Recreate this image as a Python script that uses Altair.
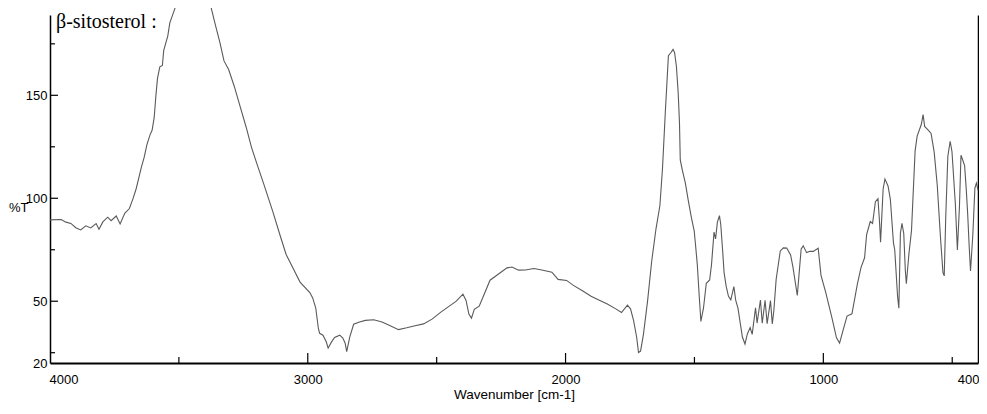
import altair as alt
import pandas as pd

# ---- spectrum values (wavenumber cm-1, %T) ----
wavenumber = [
    4000, 3957, 3938, 3919, 3900, 3881, 3861, 3842, 3821, 3810, 3795, 3776, 3763, 3743, 3728,
    3710, 3692, 3678, 3666, 3655, 3646, 3635, 3624, 3612, 3604, 3596, 3589, 3583, 3574, 3564,
    3559, 3543, 3535, 3519, 3504, 3496, 3470, 3440, 3410, 3387, 3374, 3358, 3341, 3325, 3307,
    3285, 3262, 3239, 3218, 3194, 3170, 3135, 3107, 3084, 3060, 3030, 2992, 2981, 2969, 2959,
    2954, 2941, 2928, 2921, 2909, 2896, 2876, 2864, 2855, 2849, 2837, 2822, 2802, 2777, 2744,
    2712, 2680, 2648, 2616, 2584, 2551, 2518, 2485, 2451, 2425, 2398, 2386, 2375, 2365, 2354,
    2335, 2314, 2293, 2260, 2227, 2208, 2182, 2156, 2123, 2092, 2053, 2029, 1996, 1971, 1933,
    1901, 1869, 1838, 1805, 1783, 1760, 1748, 1736, 1724, 1717, 1709, 1698, 1682, 1666, 1649,
    1634, 1624, 1613, 1601, 1591, 1583, 1577, 1570, 1563, 1558, 1555, 1547, 1535, 1524, 1512,
    1501, 1496, 1489, 1481, 1475, 1465, 1454, 1441, 1434, 1424, 1418, 1411, 1403, 1398, 1391,
    1385, 1377, 1368, 1359, 1347, 1340, 1331, 1322, 1314, 1304, 1295, 1284, 1276, 1263, 1257,
    1244, 1237, 1226, 1218, 1205, 1198, 1192, 1183, 1167, 1155, 1142, 1127, 1118, 1101, 1086,
    1078, 1065, 1052, 1039, 1020, 1009, 991, 967, 949, 937, 923, 908, 889, 868, 854,
    840, 832, 818, 809, 798, 788, 782, 778, 768, 761, 749, 740, 728, 723, 712,
    707, 701, 695, 688, 682, 678, 668, 658, 644, 636, 620, 613, 607, 594, 582,
    570, 558, 546, 536, 531, 525, 517, 508, 501, 488, 480, 472, 466, 461, 452,
    446, 440, 434, 429, 420, 412, 406, 400,
]
transmittance = [
    89.5, 89.7, 88.4, 87.8, 85.7, 84.6, 86.6, 85.6, 87.7, 84.9, 88.5, 90.8, 89.1, 91.4, 87.5,
    92.7, 95.0, 99.8, 104.5, 110.1, 114.9, 119.7, 126.1, 130.8, 133.0, 139.0, 150.1, 158.2, 163.8, 164.5,
    171.7, 178.9, 185.3, 190.9, 196.4, 199.6, 208.0, 213.0, 210.0, 198.8, 192.1, 184.0, 175.7, 166.7, 162.5,
    154.3, 144.4, 134.5, 124.6, 115.5, 106.6, 93.3, 81.8, 72.7, 66.8, 59.3, 54.2, 51.6, 46.7, 36.9,
    34.4, 33.5, 30.2, 27.2, 30.0, 32.4, 33.5, 32.1, 29.6, 25.5, 32.7, 38.8, 39.8, 40.7, 41.0,
    39.9, 38.1, 36.2, 37.1, 38.1, 39.0, 41.3, 44.6, 47.6, 49.9, 53.4, 50.4, 43.8, 41.8, 46.1,
    47.6, 53.9, 60.2, 63.2, 66.2, 66.6, 65.1, 65.2, 65.9, 65.2, 64.1, 60.6, 60.1, 57.8, 55.0,
    52.4, 50.5, 48.7, 46.3, 44.5, 48.1, 46.3, 40.6, 32.4, 25.1, 25.8, 33.8, 49.9, 69.3, 85.3,
    96.5, 114.3, 141.8, 169.2, 170.8, 172.3, 170.7, 164.1, 151.1, 136.5, 118.6, 113.7, 107.2, 99.0, 90.7,
    84.2, 77.7, 67.9, 51.6, 40.2, 46.6, 58.7, 60.3, 67.5, 83.6, 80.3, 88.4, 91.6, 87.4, 75.2,
    63.9, 57.3, 52.4, 50.7, 57.1, 50.5, 46.5, 39.1, 32.6, 29.2, 34.0, 37.2, 33.9, 46.8, 39.4,
    50.6, 39.3, 50.5, 39.1, 50.3, 39.0, 45.4, 60.7, 74.4, 75.9, 75.8, 72.5, 66.7, 52.8, 75.4,
    76.9, 73.6, 74.3, 74.2, 75.7, 62.6, 54.4, 42.2, 32.2, 29.7, 36.1, 42.8, 43.9, 58.3, 66.3,
    71.1, 82.4, 88.7, 87.8, 98.3, 99.8, 88.4, 78.7, 104.5, 109.3, 106.0, 99.5, 78.3, 75.0, 52.3,
    46.6, 83.0, 87.8, 82.9, 65.0, 58.5, 73.0, 84.3, 123.0, 130.2, 135.8, 140.6, 134.9, 133.2, 131.5,
    122.4, 106.2, 81.8, 63.9, 62.3, 91.4, 120.4, 127.7, 122.7, 97.6, 74.9, 95.9, 120.9, 119.2, 115.9,
    105.3, 92.3, 76.1, 64.7, 82.4, 105.0, 107.4, 104.0,
]

# ---- axis tick values ----
x_label_values = [4000, 3000, 2000, 1000, 400]
x_major_ticks = [3000, 2000, 1000]
x_minor_ticks = [3500, 2500, 1500, 500]
y_label_values = [20, 50, 100, 150]
y_major_ticks = [50, 100, 150]
y_minor_ticks = [25, 75, 125, 175]

title_text = ["β-sitosterol :"]

W, H = 928, 348
FONT = "Liberation Sans, Arial, Helvetica, sans-serif"

spec = pd.DataFrame({"wn": wavenumber, "T": transmittance})

x_scale = alt.Scale(domain=[400, 4000], reverse=True, nice=False, zero=False)
y_scale = alt.Scale(domain=[20, 189], nice=False, zero=False)

x_axis = alt.Axis(
    values=x_label_values, format="d", ticks=False, grid=False,
    labelFlush=True, labelFlushOffset=1,
    domainColor="black", domainWidth=2,
    labelFont=FONT, labelFontSize=13, labelColor="black", labelPadding=10,
    title="Wavenumber [cm-1]", titleFont=FONT, titleFontSize=13.5,
    titleFontWeight="normal", titleColor="black", titlePadding=1,
)
y_axis = alt.Axis(
    values=y_label_values, format="d", ticks=False, grid=False,
    domainColor="black", domainWidth=1.5,
    labelFont=FONT, labelFontSize=13, labelColor="black", labelPadding=3,
    title="%T", titleAngle=0, titleAlign="right", titleBaseline="middle",
    titleX=-22, titleY=192, titleFont=FONT, titleFontSize=13,
    titleFontWeight="normal", titleColor="black",
)
right_axis = alt.Axis(
    orient="right", labels=False, ticks=False, grid=False, title=None,
    domainColor="black", domainWidth=1.5,
)

line = alt.Chart(spec).mark_line(color="#5a5a5a", strokeWidth=1.1).encode(
    x=alt.X("wn:Q", scale=x_scale, axis=x_axis),
    y=alt.Y("T:Q", scale=y_scale, axis=y_axis),
)

xmaj = alt.Chart(pd.DataFrame({"wn": x_major_ticks})).mark_rule(color="black", strokeWidth=1.2).encode(
    x=alt.X("wn:Q", scale=x_scale, axis=x_axis),
    y=alt.value(H), y2=alt.value(H - 10),
)
xmin = alt.Chart(pd.DataFrame({"wn": x_minor_ticks})).mark_rule(color="black", strokeWidth=1.2).encode(
    x=alt.X("wn:Q", scale=x_scale, axis=x_axis),
    y=alt.value(H), y2=alt.value(H - 6),
)
ymaj = alt.Chart(pd.DataFrame({"T": y_major_ticks})).mark_rule(color="black", strokeWidth=1.2).encode(
    y=alt.Y("T:Q", scale=y_scale, axis=None),
    x=alt.value(0), x2=alt.value(8),
)
ymin = alt.Chart(pd.DataFrame({"T": y_minor_ticks})).mark_rule(color="black", strokeWidth=1.2).encode(
    y=alt.Y("T:Q", scale=y_scale, axis=None),
    x=alt.value(0), x2=alt.value(5),
)
border = alt.Chart(pd.DataFrame({"T": [20]})).mark_rule(opacity=0).encode(
    y=alt.Y("T:Q", scale=y_scale, axis=right_axis),
)
heading = alt.Chart(pd.DataFrame({"label": title_text})).mark_text(
    align="left", baseline="alphabetic", font="Liberation Serif", fontSize=20, color="black"
).encode(x=alt.value(6), y=alt.value(13), text="label:N")

chart = (
    alt.layer(line, xmaj, xmin, ymaj, ymin, border, heading)
    .resolve_axis(y="independent")
    .properties(
        width=W, height=H,
        autosize=alt.AutoSizeParams(type="none"),
        padding={"left": 42, "right": 1, "top": 7, "bottom": 40},
        background="white",
    )
    .configure_view(stroke=None)
)

chart.save("out.html", embed_options={"renderer": "svg", "actions": False})
